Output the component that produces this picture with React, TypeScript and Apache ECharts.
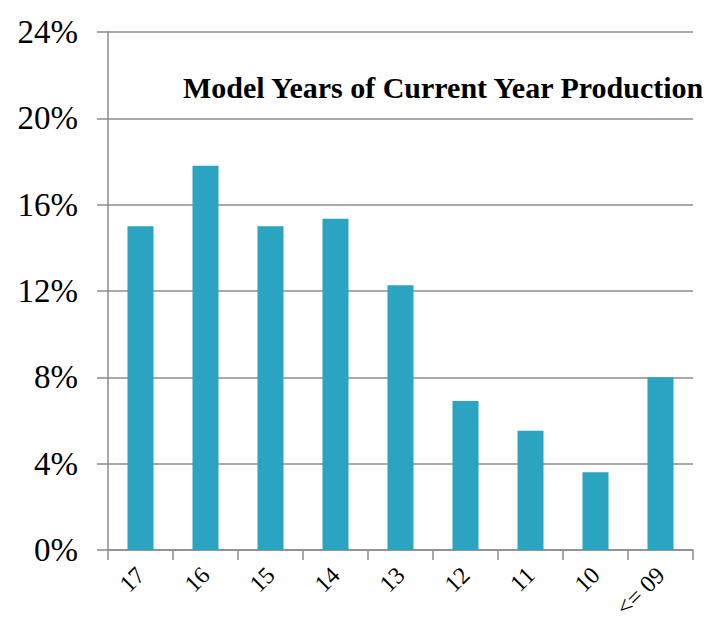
import React, { useEffect, useRef } from "react";
import * as echarts from "echarts";

const categories = ["17", "16", "15", "14", "13", "12", "11", "10", "<= 09"];
const shares = [15.0, 17.8, 15.0, 15.35, 12.27, 6.9, 5.52, 3.6, 8.0];
const yTicks = { min: 0, max: 24, interval: 4 };
const titleText = "Model Years of Current Year Production";

export default function App() {
  const ref = useRef<HTMLDivElement>(null);
  useEffect(() => {
    if (!ref.current) return;
    const chart = echarts.init(ref.current, null, { renderer: "svg" });
    const serif = "'Liberation Serif', 'Times New Roman', serif";
    chart.setOption({
      animation: false,
      backgroundColor: "#ffffff",
      title: {
        text: titleText,
        left: 178,
        top: 67,
        textStyle: { fontFamily: serif, fontWeight: "bold", fontSize: 30, color: "#000" },
      },
      grid: { left: 108, right: 26, top: 32, bottom: 75, containLabel: false },
      xAxis: {
        type: "category",
        data: categories,
        boundaryGap: true,
        axisLine: { show: true, lineStyle: { color: "#8c8c8c", width: 1.5 } },
        axisTick: { show: true, alignWithLabel: false, length: 10, lineStyle: { color: "#8c8c8c", width: 1.5 } },
        axisLabel: { rotate: 45, margin: 21, fontFamily: serif, fontSize: 24, color: "#000", interval: 0 },
        splitLine: { show: false },
      },
      yAxis: {
        type: "value",
        min: yTicks.min,
        max: yTicks.max,
        interval: yTicks.interval,
        axisLine: { show: true, lineStyle: { color: "#8c8c8c", width: 1.5 } },
        axisTick: { show: true, length: 11, lineStyle: { color: "#8c8c8c", width: 1.5 } },
        axisLabel: { formatter: "{value}%", margin: 30, fontFamily: serif, fontSize: 33, color: "#000" },
        splitLine: { show: true, lineStyle: { color: "#8c8c8c", width: 1.5 } },
      },
      series: [
        {
          type: "bar",
          data: shares,
          barWidth: "40%",
          itemStyle: { color: "#2ba4c1" },
        },
      ],
    });
    return () => chart.dispose();
  }, []);
  return (
    <div
      ref={ref}
      style={{ position: "absolute", left: 0, top: 0, width: 719, height: 625 }}
    />
  );
}
